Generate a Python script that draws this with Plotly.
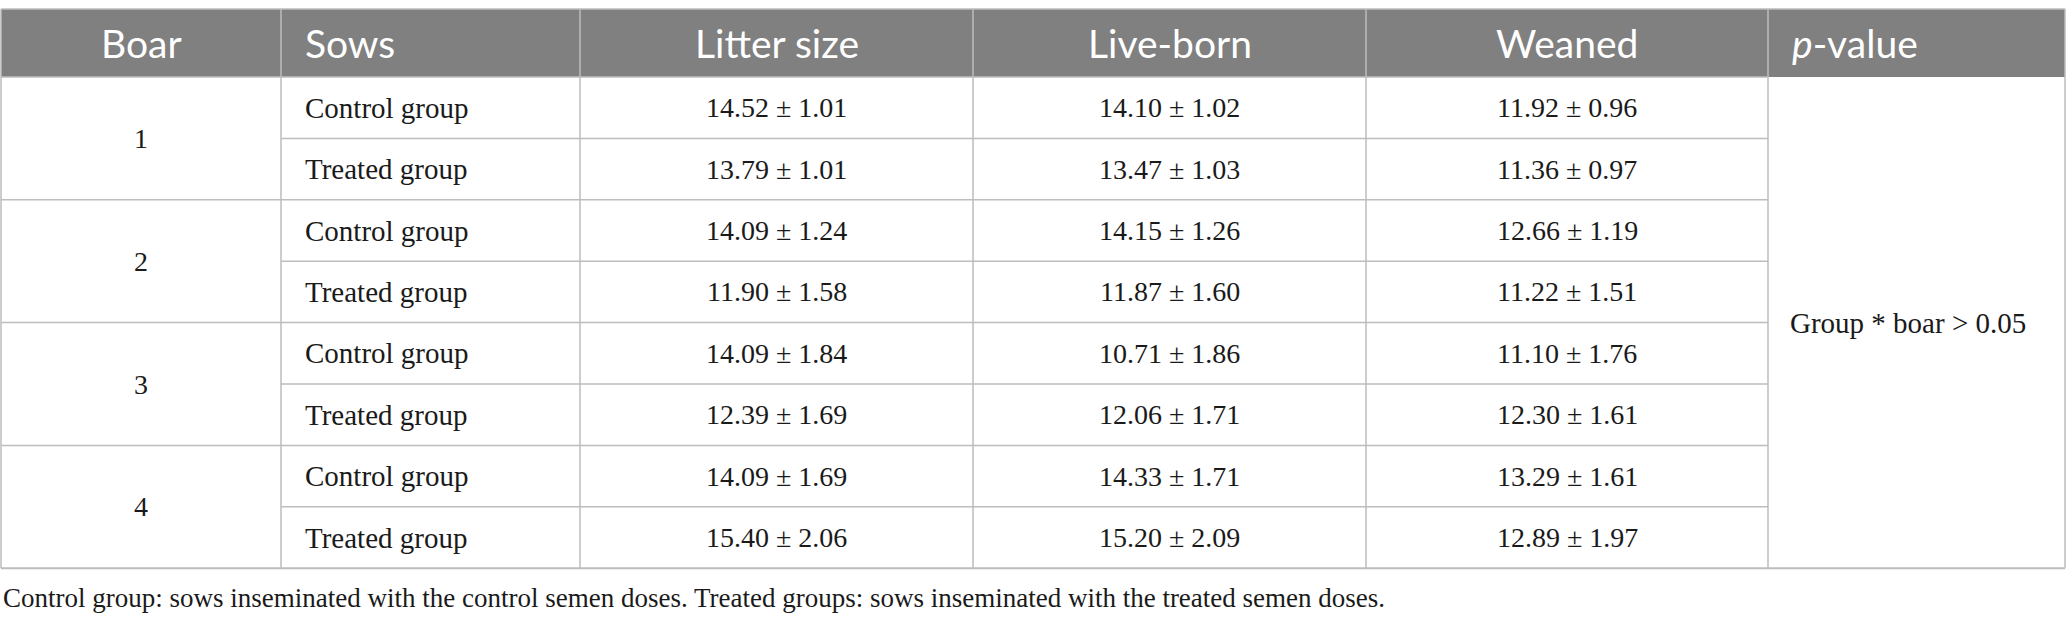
import plotly.graph_objects as go

# table content
headers = ["Boar", "Sows", "Litter size", "Live-born", "Weaned", "<i>p</i>-value"]
boars = ["1", "2", "3", "4"]
sow_groups = ["Control group", "Treated group"]
litter_mean = [14.52, 13.79, 14.09, 11.90, 14.09, 12.39, 14.09, 15.40]
litter_sd = [1.01, 1.01, 1.24, 1.58, 1.84, 1.69, 1.69, 2.06]
live_mean = [14.10, 13.47, 14.15, 11.87, 10.71, 12.06, 14.33, 15.20]
live_sd = [1.02, 1.03, 1.26, 1.60, 1.86, 1.71, 1.71, 2.09]
weaned_mean = [11.92, 11.36, 12.66, 11.22, 11.10, 12.30, 13.29, 12.89]
weaned_sd = [0.96, 0.97, 1.19, 1.51, 1.76, 1.61, 1.61, 1.97]
p_value_text = "Group * boar > 0.05"
footnote = ("Control group: sows inseminated with the control semen doses. "
            "Treated groups: sows inseminated with the treated semen doses.")

# geometry, in window pixels
W, H = 2067, 624
col_edges = [1, 281, 580, 973, 1366, 1768, 2065]
top = 9
header_h = 68
row_h = 61.4
pad = 22

n_rows = len(litter_mean)
row_top = [top + header_h + i * row_h for i in range(n_rows + 1)]
bottom = row_top[-1]

grid = "#bdbdbd"
head_fill = "#7f807f"
num_font = dict(family="Liberation Serif", size=28, color="#1a1a1a")
lab_font = dict(family="Liberation Serif", size=29, color="#1a1a1a")
sans = dict(family="Lato", size=39, color="white")

shapes = []
annotations = []

# header background
shapes.append(dict(type="rect", x0=col_edges[0], x1=col_edges[-1], y0=top, y1=top + header_h,
                   fillcolor=head_fill, line=dict(width=0), layer="below"))

# header texts
for j, h in enumerate(headers):
    left = j in (1, 5)
    x = col_edges[j] + pad if left else (col_edges[j] + col_edges[j + 1]) / 2
    annotations.append(dict(x=x, y=top + header_h / 2, text=h, showarrow=False,
                            xanchor="left" if left else "center", yanchor="middle", font=sans))

# body texts
for i in range(n_rows):
    yc = (row_top[i] + row_top[i + 1]) / 2
    annotations.append(dict(x=col_edges[1] + pad, y=yc, text=sow_groups[i % 2], showarrow=False,
                            xanchor="left", yanchor="middle", font=lab_font))
    for j, (m, s) in enumerate([(litter_mean, litter_sd), (live_mean, live_sd), (weaned_mean, weaned_sd)]):
        xc = (col_edges[2 + j] + col_edges[3 + j]) / 2
        annotations.append(dict(x=xc, y=yc, text=f"{m[i]:.2f} ± {s[i]:.2f}", showarrow=False,
                                xanchor="center", yanchor="middle", font=num_font))

for k, b in enumerate(boars):
    annotations.append(dict(x=(col_edges[0] + col_edges[1]) / 2, y=row_top[2 * k + 1], text=b,
                            showarrow=False, xanchor="center", yanchor="middle", font=num_font))

annotations.append(dict(x=col_edges[5] + 20, y=(row_top[0] + bottom) / 2, text=p_value_text,
                        showarrow=False, xanchor="left", yanchor="middle", font=lab_font))

annotations.append(dict(x=1, y=bottom + 30, text=footnote, showarrow=False,
                        xanchor="left", yanchor="middle", font=dict(lab_font, size=27)))

# grid lines
line = dict(color=grid, width=1.5)
shapes.append(dict(type="line", x0=col_edges[0], x1=col_edges[-1], y0=top, y1=top, line=line))
shapes.append(dict(type="line", x0=col_edges[0], x1=col_edges[-1], y0=bottom, y1=bottom,
                   line=dict(color=grid, width=2)))
for i in range(n_rows):
    y = row_top[i]
    if i % 2 == 0:
        shapes.append(dict(type="line", x0=col_edges[0], x1=col_edges[5], y0=y, y1=y, line=line))
    else:
        shapes.append(dict(type="line", x0=col_edges[1], x1=col_edges[5], y0=y, y1=y, line=line))
for j, x in enumerate(col_edges):
    shapes.append(dict(type="line", x0=x, x1=x, y0=top, y1=bottom, line=line))

fig = go.Figure()
fig.add_trace(go.Scatter(x=[0, W], y=[0, H], mode="markers", marker=dict(opacity=0), hoverinfo="skip"))
fig.update_layout(
    width=W, height=H, margin=dict(l=0, r=0, t=0, b=0),
    plot_bgcolor="white", paper_bgcolor="white", showlegend=False,
    xaxis=dict(range=[0, W], visible=False, fixedrange=True),
    yaxis=dict(range=[H, 0], visible=False, fixedrange=True),
    shapes=shapes, annotations=annotations,
)
# drop the default page margin so the figure sits at the window's corner
fig.write_html("out.html", config={"displayModeBar": False},
               post_script="document.body.style.margin='0';")
